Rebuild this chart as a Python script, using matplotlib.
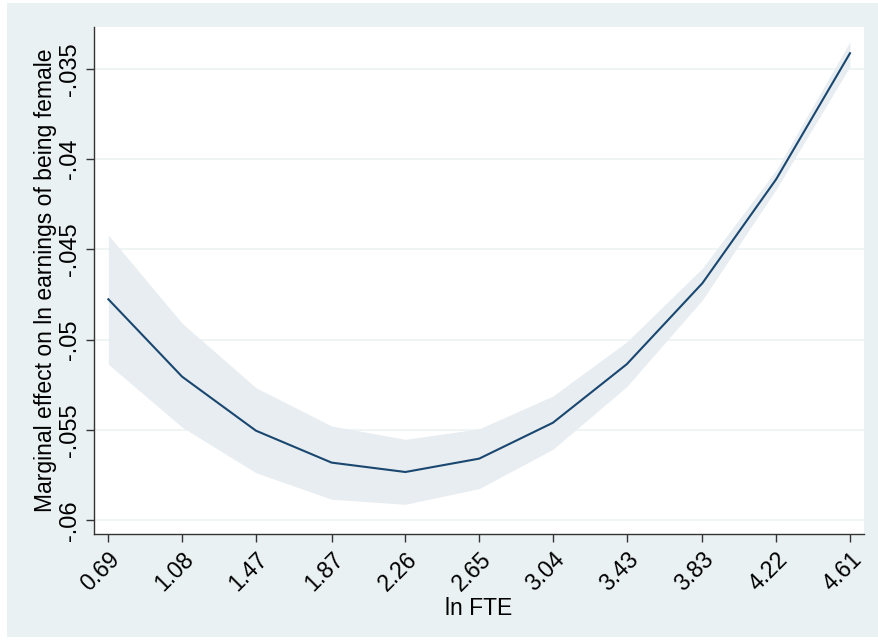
"""
Marginal effect of being female on ln earnings, by ln FTE (Stata-style margins plot).
"""

import matplotlib
matplotlib.use("Agg")
import matplotlib.pyplot as plt
from matplotlib.patches import Rectangle

# ─────────────────────────────────────────────────────────────────────────────
# Data
# ─────────────────────────────────────────────────────────────────────────────

ln_fte   = [0.69, 1.08, 1.47, 1.87, 2.26, 2.65, 3.04, 3.43, 3.83, 4.22, 4.61]
x_labels = ["0.69", "1.08", "1.47", "1.87", "2.26", "2.65",
            "3.04", "3.43", "3.83", "4.22", "4.61"]

effect   = [-0.04776, -0.05205, -0.05504, -0.05681, -0.05733, -0.05659,
            -0.05460, -0.05136, -0.04687, -0.04111, -0.03413]
ci_upper = [-0.04420, -0.04909, -0.05266, -0.05478, -0.05552, -0.05494,
            -0.05312, -0.05012, -0.04604, -0.04060, -0.03349]
ci_lower = [-0.05136, -0.05485, -0.05737, -0.05884, -0.05912, -0.05825,
            -0.05607, -0.05260, -0.04780, -0.04167, -0.03487]

y_ticks  = [-0.06, -0.055, -0.05, -0.045, -0.04, -0.035]
y_labels = ["-.06", "-.055", "-.05", "-.045", "-.04", "-.035"]

# ─────────────────────────────────────────────────────────────────────────────
# Styling
# ─────────────────────────────────────────────────────────────────────────────

BG     = "#EAF1F3"
BAND   = "#E8EDF1"
LINE   = "#1A476F"
GRID   = "#EEF3F5"

plt.rcParams["font.family"] = ["Liberation Sans", "DejaVu Sans"]

fig = plt.figure(figsize=(8.79, 6.40), dpi=100, facecolor="white")
fig.patches.append(Rectangle((7 / 879, 3 / 640), 872 / 879, 634 / 640,
                             transform=fig.transFigure, facecolor=BG,
                             edgecolor="none", zorder=-10))

ax = fig.add_axes([0.1069, 0.1652, 0.8760, 0.7931])
ax.set_facecolor("white")

ax.fill_between(ln_fte, ci_lower, ci_upper, color=BAND, linewidth=0, zorder=2)
ax.plot(ln_fte, effect, color=LINE, linewidth=1.5, zorder=3)

ax.set_xlim(0.614, 4.684)
ax.set_ylim(-0.06078, -0.03266)

ax.set_xticks(ln_fte)
ax.set_xticklabels(x_labels, rotation=45, ha="right", va="top",
                   rotation_mode="anchor", fontsize=16.5)
ax.set_yticks(y_ticks)
ax.set_yticklabels(y_labels, rotation=90, va="center", fontsize=17)

ax.tick_params(axis="both", direction="out", length=6, width=1, color="#333333")
ax.tick_params(axis="x", pad=4)
ax.tick_params(axis="y", pad=3)
ax.grid(axis="y", color=GRID, linewidth=1.3, zorder=1)
ax.set_axisbelow(True)

for side in ("top", "right"):
    ax.spines[side].set_visible(False)
for side in ("left", "bottom"):
    ax.spines[side].set_color("#333333")
    ax.spines[side].set_linewidth(1)

ax.set_xlabel("ln FTE", fontsize=16.5, labelpad=1)
ax.set_ylabel("Marginal effect on ln earnings of being female", fontsize=16.5, labelpad=2)

plt.savefig("out.png", dpi=100, facecolor=fig.get_facecolor())
